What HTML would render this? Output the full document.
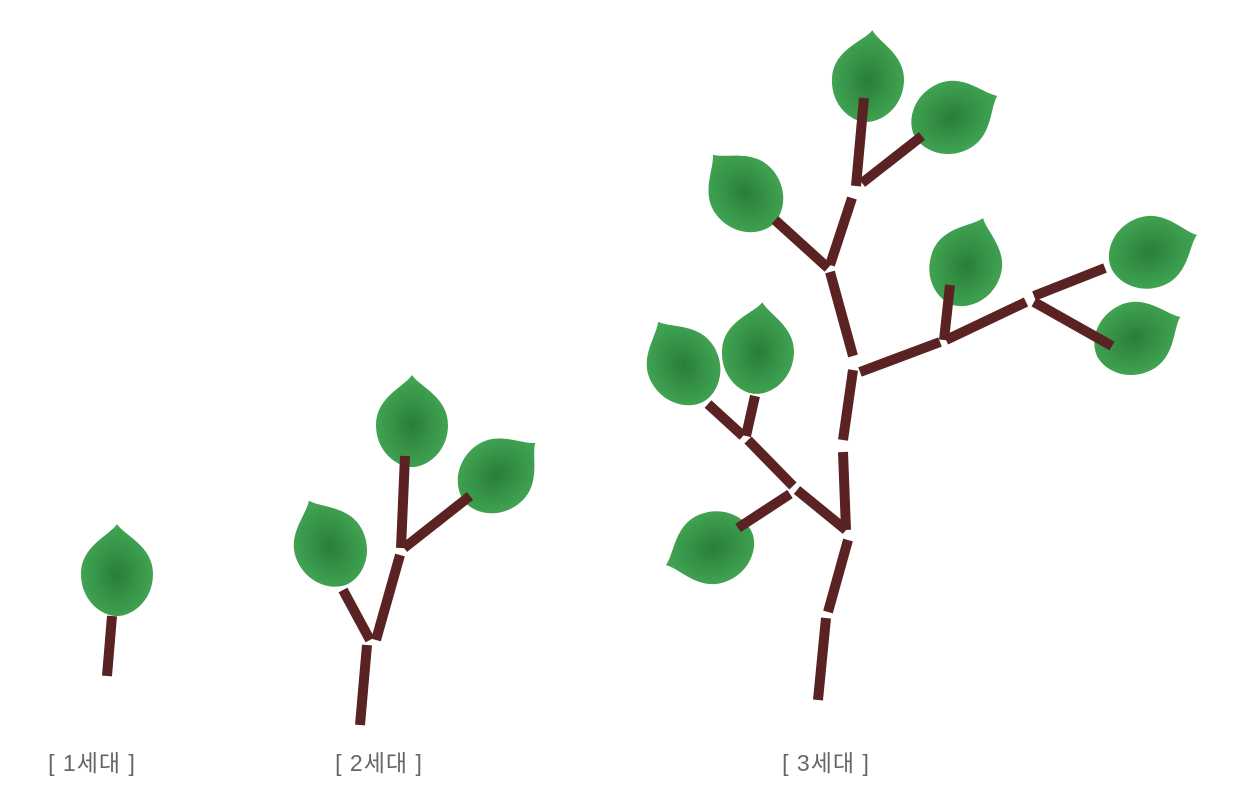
<!DOCTYPE html>
<html><head><meta charset="utf-8"><style>
html,body{margin:0;padding:0;background:#fff;width:1240px;height:806px;overflow:hidden}
.lbl{font-family:"Liberation Sans","Noto Sans CJK KR",sans-serif;font-size:23px;fill:#666;letter-spacing:1px}
</style></head><body>
<svg width="1240" height="806" viewBox="0 0 1240 806" xmlns="http://www.w3.org/2000/svg">
<defs>
<radialGradient id="lg" cx="50%" cy="55%" r="55%">
<stop offset="0" stop-color="#2a7d38"/><stop offset="0.6" stop-color="#38984a"/><stop offset="1" stop-color="#45a655"/>
</radialGradient>
<path id="leaf" d="M0,-50 C8,-38 36,-28 36,0 C36,26 16,42 0,42 C-16,42 -36,26 -36,0 C-36,-28 -8,-38 0,-50 Z" fill="url(#lg)"/>
</defs>
<g id="leaves">
<use href="#leaf" transform="translate(117,574)"/>
<use href="#leaf" transform="translate(330,546) rotate(-25)"/>
<use href="#leaf" transform="translate(412,425)"/>
<use href="#leaf" transform="translate(497,475) rotate(50)"/>
<use href="#leaf" transform="translate(868,80) rotate(5)"/>
<use href="#leaf" transform="translate(952,117) rotate(65)"/>
<use href="#leaf" transform="translate(745,193) rotate(-40)"/>
<use href="#leaf" transform="translate(966,265) rotate(20)"/>
<use href="#leaf" transform="translate(1150,252) rotate(70)"/>
<use href="#leaf" transform="translate(1135,338) rotate(65)"/>
<use href="#leaf" transform="translate(683,365) rotate(-30)"/>
<use href="#leaf" transform="translate(758,352) rotate(5)"/>
<use href="#leaf" transform="translate(713,548) rotate(-110)"/>
</g>
<g id="stems" stroke="#5a2222" stroke-width="10" stroke-linecap="butt" fill="none">
<path d="M107,676 L112,616"/>
<path d="M360,725 L367,645"/>
<path d="M370,640 L343,590"/>
<path d="M376,640 L400,555"/>
<path d="M401,548 L405,456"/>
<path d="M404,548 L470,496"/>
<path d="M818,700 L826,618"/>
<path d="M828,612 L848,540"/>
<path d="M846,530 L843,452"/>
<path d="M843,440 L853,370"/>
<path d="M853,356 L830,272"/>
<path d="M830,265 L852,198"/>
<path d="M856,186 L864,98"/>
<path d="M862,183 L922,136"/>
<path d="M828,268 L775,220"/>
<path d="M860,372 L940,342"/>
<path d="M944,340 L950,285"/>
<path d="M946,340 L1026,302"/>
<path d="M1034,296 L1105,268"/>
<path d="M1034,302 L1112,346"/>
<path d="M846,530 L797,490"/>
<path d="M793,486 L748,440"/>
<path d="M743,436 L708,404"/>
<path d="M746,436 L755,396"/>
<path d="M790,494 L738,528"/>
</g>
<text class="lbl" x="92" y="771" text-anchor="middle">[ 1세대 ]</text>
<text class="lbl" x="379" y="771" text-anchor="middle">[ 2세대 ]</text>
<text class="lbl" x="826" y="771" text-anchor="middle">[ 3세대 ]</text>
</svg>
</body></html>
